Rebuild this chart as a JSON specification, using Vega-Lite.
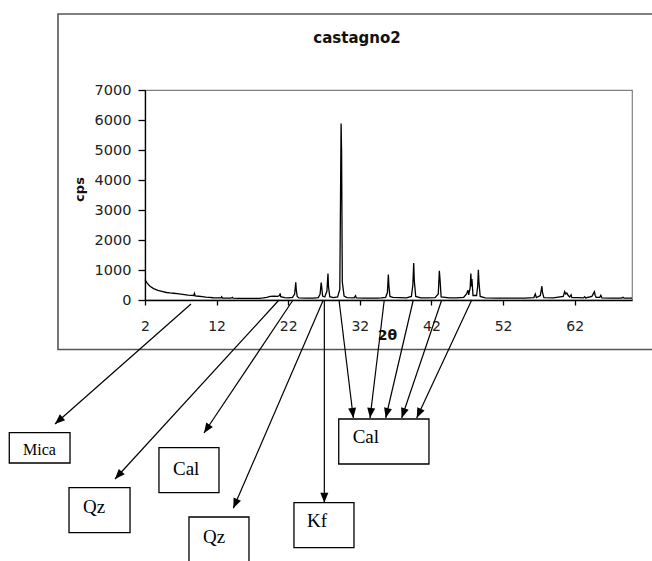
{
  "$schema": "https://vega.github.io/schema/vega-lite/v6.json",
  "width": 487,
  "height": 210,
  "autosize": {"type": "none"},
  "padding": {"left": 145, "top": 90, "right": 20, "bottom": 261},
  "background": "white",
  "config": {"view": {"stroke": "#808080", "strokeWidth": 1.2}},
  "datasets": {
    "spectrum": [
      {"x": 2.0, "y": 680}, {"x": 2.3, "y": 560}, {"x": 2.7, "y": 460}, {"x": 3.2, "y": 380}, {"x": 3.8, "y": 320},
      {"x": 4.5, "y": 280}, {"x": 5.0, "y": 250}, {"x": 5.5, "y": 235}, {"x": 6.0, "y": 225}, {"x": 6.5, "y": 210},
      {"x": 7.0, "y": 195}, {"x": 7.5, "y": 180}, {"x": 8.0, "y": 165}, {"x": 8.5, "y": 155}, {"x": 8.8, "y": 150},
      {"x": 8.9, "y": 220}, {"x": 9.0, "y": 140}, {"x": 9.5, "y": 125}, {"x": 10.0, "y": 110}, {"x": 10.5, "y": 95},
      {"x": 11.0, "y": 85}, {"x": 11.5, "y": 75}, {"x": 12.0, "y": 70}, {"x": 12.6, "y": 75}, {"x": 12.7, "y": 110},
      {"x": 12.8, "y": 65}, {"x": 13.5, "y": 60}, {"x": 14.0, "y": 60}, {"x": 14.2, "y": 90}, {"x": 14.3, "y": 60},
      {"x": 15.0, "y": 55}, {"x": 16.0, "y": 55}, {"x": 17.0, "y": 55}, {"x": 18.0, "y": 55}, {"x": 18.5, "y": 70},
      {"x": 19.0, "y": 90}, {"x": 19.5, "y": 120}, {"x": 20.0, "y": 130}, {"x": 20.5, "y": 120}, {"x": 20.8, "y": 150},
      {"x": 20.87, "y": 220}, {"x": 20.95, "y": 110}, {"x": 21.5, "y": 80}, {"x": 22.0, "y": 70}, {"x": 22.6, "y": 90},
      {"x": 22.9, "y": 200}, {"x": 23.05, "y": 590}, {"x": 23.12, "y": 350}, {"x": 23.25, "y": 120}, {"x": 23.5, "y": 70},
      {"x": 24.5, "y": 60}, {"x": 25.5, "y": 65}, {"x": 26.2, "y": 80}, {"x": 26.45, "y": 200}, {"x": 26.6, "y": 580},
      {"x": 26.67, "y": 440}, {"x": 26.8, "y": 130}, {"x": 27.1, "y": 100}, {"x": 27.4, "y": 300}, {"x": 27.55, "y": 880},
      {"x": 27.62, "y": 450}, {"x": 27.8, "y": 110}, {"x": 28.3, "y": 80}, {"x": 28.9, "y": 100}, {"x": 29.2, "y": 350},
      {"x": 29.38, "y": 5880}, {"x": 29.45, "y": 4940}, {"x": 29.55, "y": 600}, {"x": 29.8, "y": 130}, {"x": 30.2, "y": 80},
      {"x": 31.2, "y": 70}, {"x": 31.4, "y": 140}, {"x": 31.5, "y": 70}, {"x": 32.5, "y": 60}, {"x": 33.5, "y": 60},
      {"x": 34.5, "y": 65}, {"x": 35.0, "y": 70}, {"x": 35.6, "y": 90}, {"x": 35.85, "y": 250}, {"x": 35.98, "y": 850},
      {"x": 36.05, "y": 500}, {"x": 36.2, "y": 120}, {"x": 36.6, "y": 90}, {"x": 37.5, "y": 80}, {"x": 38.5, "y": 70},
      {"x": 39.2, "y": 120}, {"x": 39.4, "y": 500}, {"x": 39.52, "y": 1230}, {"x": 39.6, "y": 650}, {"x": 39.8, "y": 120},
      {"x": 40.5, "y": 70}, {"x": 41.5, "y": 70}, {"x": 42.5, "y": 80}, {"x": 42.95, "y": 200}, {"x": 43.1, "y": 970},
      {"x": 43.18, "y": 730}, {"x": 43.35, "y": 100}, {"x": 44.5, "y": 70}, {"x": 45.5, "y": 70}, {"x": 46.5, "y": 90},
      {"x": 46.9, "y": 200}, {"x": 47.1, "y": 330}, {"x": 47.2, "y": 170}, {"x": 47.4, "y": 400}, {"x": 47.5, "y": 880},
      {"x": 47.57, "y": 450}, {"x": 47.65, "y": 700}, {"x": 47.8, "y": 150}, {"x": 48.3, "y": 150}, {"x": 48.45, "y": 450},
      {"x": 48.55, "y": 1010}, {"x": 48.63, "y": 600}, {"x": 48.8, "y": 120}, {"x": 49.5, "y": 70}, {"x": 51.0, "y": 60},
      {"x": 53.0, "y": 60}, {"x": 55.0, "y": 65}, {"x": 56.3, "y": 80}, {"x": 56.5, "y": 200}, {"x": 56.65, "y": 80},
      {"x": 57.2, "y": 150}, {"x": 57.42, "y": 460}, {"x": 57.5, "y": 250}, {"x": 57.7, "y": 80}, {"x": 59.0, "y": 70},
      {"x": 60.4, "y": 120}, {"x": 60.6, "y": 280}, {"x": 60.75, "y": 200}, {"x": 60.9, "y": 230}, {"x": 61.1, "y": 150},
      {"x": 61.3, "y": 100}, {"x": 61.5, "y": 170}, {"x": 61.6, "y": 80}, {"x": 62.5, "y": 80}, {"x": 63.2, "y": 70},
      {"x": 63.4, "y": 110}, {"x": 63.5, "y": 70}, {"x": 64.4, "y": 120}, {"x": 64.75, "y": 280}, {"x": 64.85, "y": 160},
      {"x": 65.0, "y": 90}, {"x": 65.5, "y": 90}, {"x": 65.65, "y": 160}, {"x": 65.8, "y": 70}, {"x": 67.0, "y": 60},
      {"x": 68.5, "y": 60}, {"x": 68.75, "y": 90}, {"x": 68.9, "y": 60}, {"x": 70.0, "y": 60}
    ],
    "frame": [{"x": -10.15, "x2": 75, "y": 9533, "y2": -1650}],
    "arrows": [
      {"phase": "Mica", "x": -10.57, "y": -4133, "x2": 8.42, "y2": -133},
      {"phase": "Qz", "x": -2.19, "y": -5967, "x2": 20.71, "y2": 0},
      {"phase": "Cal", "x": 10.24, "y": -4433, "x2": 22.67, "y2": 0},
      {"phase": "Qz", "x": 14.33, "y": -6943, "x2": 26.9, "y2": 0},
      {"phase": "Kf", "x": 27.04, "y": -6757, "x2": 27.04, "y2": 0},
      {"phase": "Cal", "x": 31.09, "y": -3933, "x2": 29.09, "y2": 0},
      {"phase": "Cal", "x": 33.42, "y": -3933, "x2": 35.41, "y2": 0},
      {"phase": "Cal", "x": 35.61, "y": -3933, "x2": 39.46, "y2": 0},
      {"phase": "Cal", "x": 37.84, "y": -3933, "x2": 43.43, "y2": 0},
      {"phase": "Cal", "x": 39.94, "y": -3933, "x2": 47.62, "y2": 0}
    ],
    "boxes": [
      {"label": "Mica", "x": -16.95, "x2": -8.47, "y": -4423, "y2": -5433},
      {"label": "Qz", "x": -8.61, "x2": -0.09, "y": -6257, "y2": -7757},
      {"label": "Cal", "x": 3.95, "x2": 12.33, "y": -4923, "y2": -6423},
      {"label": "Qz", "x": 8.14, "x2": 16.52, "y": -7233, "y2": -9200},
      {"label": "Kf", "x": 22.8, "x2": 31.18, "y": -6757, "y2": -8257},
      {"label": "Cal", "x": 29.05, "x2": 41.65, "y": -3967, "y2": -5467}
    ],
    "labels": [
      {"label": "Mica", "x": -15.03, "y": -5167},
      {"label": "Qz", "x": -6.66, "y": -7100},
      {"label": "Cal", "x": 5.91, "y": -5817},
      {"label": "Qz", "x": 10.1, "y": -8087},
      {"label": "Kf", "x": 24.62, "y": -7567},
      {"label": "Cal", "x": 31.0, "y": -4767}
    ],
    "title": [{"x": 31.6, "y": 8723, "label": "castagno2"}]
  },
  "encoding": {
    "x": {
      "field": "x", "type": "quantitative",
      "scale": {"domain": [2, 70], "nice": false, "zero": false},
      "axis": {
        "title": "2θ", "values": [2, 12, 22, 32, 42, 52, 62], "format": "d", "grid": false,
        "domainColor": "black", "domainWidth": 1.3, "tickColor": "black", "tickWidth": 1.3, "tickSize": 5,
        "labelFont": "DejaVu Sans", "labelFontSize": 14, "labelColor": "#222222", "labelPadding": 14,
        "labelFlush": false, "labelOverlap": false,
        "titleFont": "DejaVu Sans", "titleFontSize": 14, "titleFontWeight": "bold", "titleColor": "#111111",
        "titleX": 242, "titleY": 35.5, "titleBaseline": "middle", "titleAlign": "center"
      }
    },
    "y": {
      "field": "y", "type": "quantitative",
      "scale": {"domain": [0, 7000], "nice": false, "zero": false},
      "axis": {
        "title": "cps", "values": [0, 1000, 2000, 3000, 4000, 5000, 6000, 7000], "format": "d", "grid": false,
        "domainColor": "black", "domainWidth": 1.3, "tickColor": "black", "tickWidth": 1.3, "tickSize": 7,
        "labelFont": "DejaVu Sans", "labelFontSize": 14.5, "labelColor": "#222222", "labelPadding": 7,
        "labelFlush": false, "labelOverlap": false,
        "titleFont": "DejaVu Sans", "titleFontSize": 13, "titleFontWeight": "bold", "titleColor": "#111111",
        "titleX": -65.3, "titleY": 99, "titleAngle": 270, "titleBaseline": "middle", "titleAlign": "center"
      }
    }
  },
  "layer": [
    {
      "data": {"name": "spectrum"},
      "mark": {"type": "line", "color": "black", "strokeWidth": 1.3, "interpolate": "linear"},
      "encoding": {}
    },
    {
      "data": {"name": "frame"},
      "mark": {"type": "rect", "fill": "transparent", "stroke": "#555555", "strokeWidth": 1.6},
      "encoding": {"x2": {"field": "x2"}, "y2": {"field": "y2"}}
    },
    {
      "data": {"name": "title"},
      "mark": {"type": "text", "font": "DejaVu Sans", "fontWeight": "bold", "fontSize": 15, "align": "center", "baseline": "middle", "color": "#111111"},
      "encoding": {"text": {"field": "label"}}
    },
    {
      "data": {"name": "arrows"},
      "mark": {"type": "rule", "color": "black", "strokeWidth": 1.2},
      "encoding": {"x2": {"field": "x2"}, "y2": {"field": "y2"}}
    },
    {
      "data": {"name": "arrows"},
      "transform": [
        {"calculate": "atan2(-(datum.x - datum.x2) * 7.1618, (datum.y2 - datum.y) / 33.333) * 180 / PI", "as": "ang"}
      ],
      "mark": {"type": "point", "shape": "M0,0L-0.4,-1L0.4,-1Z", "filled": true, "size": 400, "color": "black", "opacity": 1, "strokeWidth": 0},
      "encoding": {"angle": {"field": "ang", "type": "quantitative", "scale": null}}
    },
    {
      "data": {"name": "boxes"},
      "mark": {"type": "rect", "fill": "white", "stroke": "black", "strokeWidth": 1.3},
      "encoding": {"x2": {"field": "x2"}, "y2": {"field": "y2"}}
    },
    {
      "data": {"name": "labels"},
      "mark": {"type": "text", "font": "Liberation Serif", "align": "left", "baseline": "alphabetic", "color": "black"},
      "encoding": {
        "text": {"field": "label"},
        "size": {"condition": {"test": "datum.label === 'Mica'", "value": 16}, "value": 19}
      }
    }
  ]
}
